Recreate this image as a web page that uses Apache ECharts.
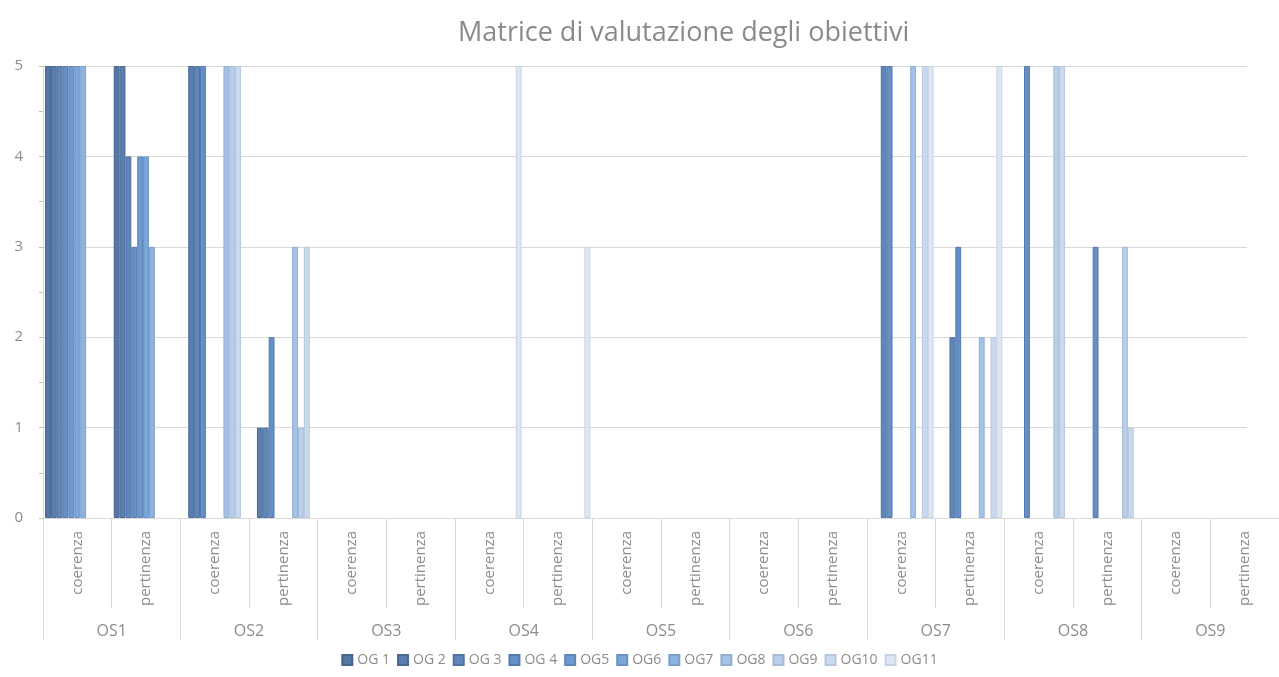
<!DOCTYPE html>
<html>
<head>
<meta charset="utf-8">
<title>Matrice di valutazione degli obiettivi</title>
<script src="https://cdn.jsdelivr.net/npm/echarts@6/dist/echarts.min.js"></script>
<style>
  html, body { margin: 0; padding: 0; background: #fff; }
  #main { width: 1279px; height: 677px; }
</style>
</head>
<body>
<div id="main"></div>
<script>
// categories
const goals = ['OS1', 'OS2', 'OS3', 'OS4', 'OS5', 'OS6', 'OS7', 'OS8', 'OS9']
const aspects = ['coerenza', 'pertinenza']
const ogNames = ['OG 1', 'OG 2', 'OG 3', 'OG 4', 'OG5', 'OG6', 'OG7', 'OG8', 'OG9', 'OG10', 'OG11']
const yTicks = [0, 1, 2, 3, 4, 5]

// one value per category: OS1 coerenza, OS1 pertinenza, OS2 coerenza, ... OS9 pertinenza
const og1 = [5, 5, 0, 0, 0, 0, 0, 0, 0, 0, 0, 0, 0, 0, 0, 0, 0, 0]
const og2 = [5, 5, 5, 1, 0, 0, 0, 0, 0, 0, 0, 0, 0, 0, 0, 0, 0, 0]
const og3 = [5, 4, 5, 1, 0, 0, 0, 0, 0, 0, 0, 0, 5, 2, 0, 0, 0, 0]
const og4 = [5, 3, 5, 2, 0, 0, 0, 0, 0, 0, 0, 0, 5, 3, 5, 3, 0, 0]
const og5 = [5, 4, 0, 0, 0, 0, 0, 0, 0, 0, 0, 0, 0, 0, 0, 0, 0, 0]
const og6 = [5, 4, 0, 0, 0, 0, 0, 0, 0, 0, 0, 0, 0, 0, 0, 0, 0, 0]
const og7 = [5, 3, 0, 0, 0, 0, 0, 0, 0, 0, 0, 0, 0, 0, 0, 0, 0, 0]
const og8 = [0, 0, 5, 3, 0, 0, 0, 0, 0, 0, 0, 0, 5, 2, 0, 0, 0, 0]
const og9 = [0, 0, 5, 1, 0, 0, 0, 0, 0, 0, 0, 0, 0, 0, 5, 3, 0, 0]
const og10 = [0, 0, 5, 3, 0, 0, 0, 0, 0, 0, 0, 0, 5, 2, 5, 1, 0, 0]
const og11 = [0, 0, 0, 0, 0, 0, 5, 3, 0, 0, 0, 0, 5, 5, 0, 0, 0, 0]
const ogValues = [og1, og2, og3, og4, og5, og6, og7, og8, og9, og10, og11]

// shades, darkest first
const fills = ['#5676a4', '#5a7eae', '#5f87ba', '#6590c6', '#6d9ad0', '#7ba6d9',
  '#8db3df', '#a4c2e5', '#b8cee9', '#cad9ef', '#dce6f4']
const borders = ['#46638d', '#4a6a96', '#4f73a2', '#557bad', '#5d86b8', '#6a93c4',
  '#7ca0ca', '#92afd0', '#a6bcd6', '#b8c8dc', '#c8d4e4']

const font = '"Open Sans", "Liberation Sans", sans-serif'
const textGray = '#8c8c8c'
const lineGray = '#d9d9d9'

const catLabels = []
for (let i = 0; i < goals.length; i++) {
  for (let j = 0; j < aspects.length; j++) {
    catLabels.push(aspects[j])
  }
}

const series = []
for (let i = 0; i < ogNames.length; i++) {
  series.push({
    name: ogNames[i],
    type: 'bar',
    xAxisIndex: 0,
    yAxisIndex: 0,
    barGap: '0%',
    barCategoryGap: '6%',
    // empty cells: no outline along the baseline
    data: ogValues[i].map(v => v === 0 ? { value: 0, itemStyle: { borderWidth: 0 } } : v),
    itemStyle: {
      color: fills[i],
      borderColor: borders[i],
      borderWidth: 1
    },
    animation: false
  })
}

const chart = echarts.init(document.getElementById('main'))
chart.setOption({
  animation: false,
  textStyle: { fontFamily: font },
  title: {
    text: 'Matrice di valutazione degli obiettivi',
    left: 453,
    top: 15,
    textStyle: { fontFamily: font, fontSize: 27, fontWeight: 'normal', color: '#8a8a8a' }
  },
  legend: {
    data: ogNames,
    left: 'center',
    top: 648,
    icon: 'rect',
    itemWidth: 10,
    itemHeight: 10,
    itemGap: 7,
    textStyle: { fontFamily: font, fontSize: 14, color: textGray }
  },
  grid: [
    // bars and category axis (runs past the right edge like the source)
    { left: 43, top: 66, width: 1246, height: 452 },
    // value gridlines only
    { left: 43, top: 66, width: 1204, height: 452 }
  ],
  xAxis: [
    {
      gridIndex: 0,
      type: 'category',
      data: catLabels,
      position: 'bottom',
      axisLine: { show: true, lineStyle: { color: lineGray } },
      axisTick: { show: true, interval: 0, length: 90, lineStyle: { color: lineGray } },
      axisLabel: { interval: 0, rotate: 90, margin: 13, fontSize: 15, color: textGray, fontFamily: font },
      splitLine: { show: false }
    },
    {
      gridIndex: 0,
      type: 'category',
      data: goals,
      position: 'bottom',
      axisLine: { show: false },
      axisTick: { show: true, interval: 0, length: 122, lineStyle: { color: lineGray } },
      axisLabel: { interval: 0, margin: 105, fontSize: 16, color: textGray, fontFamily: font },
      splitLine: { show: false }
    },
    {
      gridIndex: 1,
      type: 'category',
      data: catLabels,
      show: false
    }
  ],
  yAxis: [
    {
      gridIndex: 0,
      type: 'value',
      min: 0,
      max: 5,
      interval: 1,
      show: false
    },
    {
      gridIndex: 1,
      type: 'value',
      min: yTicks[0],
      max: yTicks[yTicks.length - 1],
      interval: 1,
      axisLine: { show: true, lineStyle: { color: lineGray } },
      axisTick: { show: true, length: 4, lineStyle: { color: '#bfbfbf' } },
      minorTick: { show: true, splitNumber: 2, length: 4, lineStyle: { color: '#bfbfbf' } },
      axisLabel: { margin: 20, fontSize: 15, color: textGray, fontFamily: font },
      splitLine: { show: true, lineStyle: { color: lineGray, width: 1 } }
    }
  ],
  series: series
})
</script>
</body>
</html>
